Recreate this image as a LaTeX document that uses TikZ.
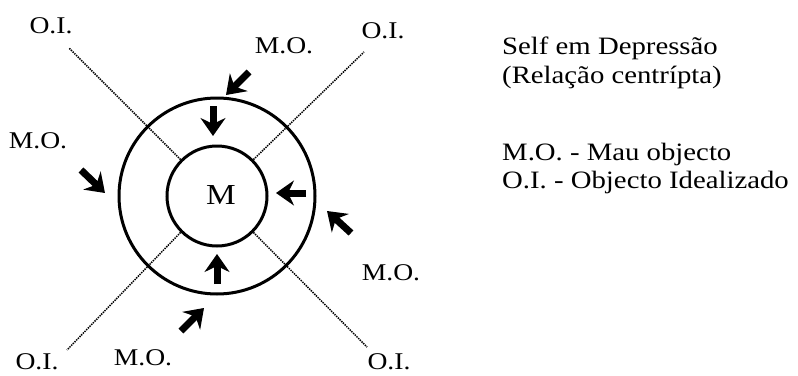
\documentclass[tikz,border=0pt]{standalone}
\usepackage{fontspec}
\usepackage{graphicx}
\setmainfont{Liberation Serif}
\usetikzlibrary{arrows.meta}
\newcommand{\widetxt}[1]{\scalebox{1.15}[1]{#1}}
\begin{document}
\begin{tikzpicture}[x=1pt,y=-1pt,
  ring/.style={circle,draw,line width=3pt,inner sep=0pt},
  lbl/.style={font=\fontsize{24}{28}\selectfont,inner sep=0pt,anchor=base},
  txt/.style={font=\fontsize{25}{29}\selectfont,inner sep=0pt,anchor=base west},
  axis/.style={line width=1.5pt,dash pattern=on 1.4pt off 1pt},
  push/.style={line width=7pt,-{Stealth[length=18pt,width=25pt,inset=6pt]}}]
\useasboundingbox (0,0) rectangle (798,375);
% circles
\node[ring,minimum size=196pt] (outer) at (217,196) {};
\node[ring,minimum size=100pt] (inner) at (217,196) {};
\node[lbl,font=\fontsize{29}{32}\selectfont] (m) at (221,204) {\widetxt{M}};
% dotted axes
\coordinate (eTL) at (69,48);
\coordinate (eTR) at (364,52);
\coordinate (eBL) at (67,350);
\coordinate (eBR) at (367,347);
\draw[axis] (inner.north west) -- (eTL);
\draw[axis] (inner.north east) -- (eTR);
\draw[axis] (inner.south west) -- (eBL);
\draw[axis] (inner.south east) -- (eBR);
% labels
\node[lbl] (oi1) at (51,33) {\widetxt{O.I.}};
\node[lbl] (oi2) at (383,38) {\widetxt{O.I.}};
\node[lbl] (oi3) at (37,369) {\widetxt{O.I.}};
\node[lbl] (oi4) at (389,369) {\widetxt{O.I.}};
\node[lbl] (mo1) at (284,53) {\widetxt{M.O.}};
\node[lbl] (mo2) at (38,148) {\widetxt{M.O.}};
\node[lbl] (mo3) at (391,280) {\widetxt{M.O.}};
\node[lbl] (mo4) at (143,365) {\widetxt{M.O.}};
% arrows
\coordinate (a1s) at (249,72);  \coordinate (a1e) at (226,95);
\coordinate (a2s) at (213,106); \coordinate (a2e) at (213,136);
\coordinate (a3s) at (81,170);  \coordinate (a3e) at (105,193);
\coordinate (a4s) at (306,193); \coordinate (a4e) at (276,193);
\coordinate (a5s) at (351,233); \coordinate (a5e) at (327,211);
\coordinate (a6s) at (217,284); \coordinate (a6e) at (217,254);
\coordinate (a7s) at (181,331); \coordinate (a7e) at (204,308);
\draw[push] (a1s) -- (a1e);
\draw[push] (a2s) -- (a2e);
\draw[push] (a3s) -- (a3e);
\draw[push] (a4s) -- (a4e);
\draw[push] (a5s) -- (a5e);
\draw[push] (a6s) -- (a6e);
\draw[push] (a7s) -- (a7e);
% legend text
\node[txt] (t1) at (502,54) {\widetxt{Self em Depressão}};
\node[txt] (t2) at (502,83) {\widetxt{(Relação centrípta)}};
\node[txt] (t3) at (502,160) {\widetxt{M.O. - Mau objecto}};
\node[txt] (t4) at (502,188) {\widetxt{O.I. - Objecto Idealizado}};
\end{tikzpicture}
\end{document}
